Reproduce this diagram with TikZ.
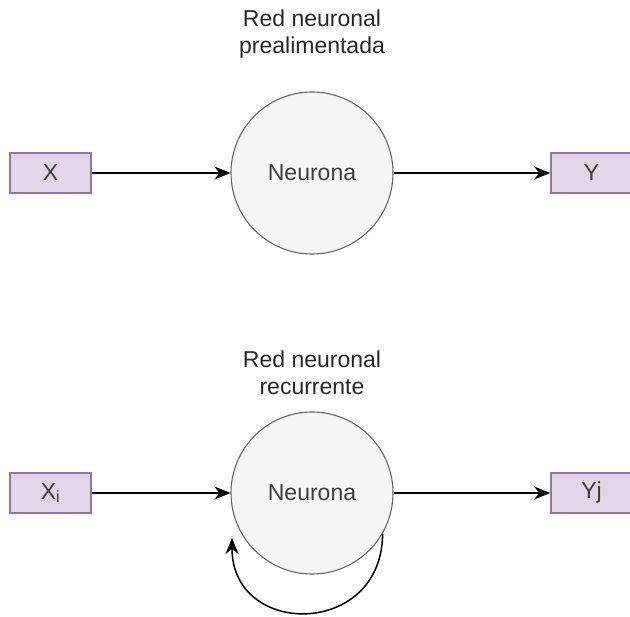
\documentclass[tikz,border=0pt]{standalone}
\usepackage{fontspec}
\setmainfont{Liberation Sans}
\usetikzlibrary{arrows.meta}
\definecolor{boxfill}{HTML}{E1D5E7}
\definecolor{boxline}{HTML}{9673A6}
\definecolor{cellfill}{HTML}{F5F5F5}
\definecolor{cellline}{HTML}{666666}
\definecolor{labeltext}{HTML}{3C3C3C}
\tikzset{
  txt/.style={font=\fontsize{23}{27}\selectfont},
  iobox/.style={txt, draw=boxline, fill=boxfill, line width=1.6pt,
    minimum width=81pt, minimum height=40pt, inner sep=0pt, text=labeltext},
  neuron/.style={txt, circle, draw=cellline, fill=cellfill, line width=1.1pt,
    minimum size=162pt, inner sep=0pt, text=labeltext},
  title/.style={txt, align=center, text=black!85},
  arr/.style={line width=1.5pt, -{Stealth[length=16pt, width=13pt, inset=5pt]}}
}
\begin{document}
\begin{tikzpicture}[x=1pt, y=-1pt]
  \useasboundingbox (0,0) rectangle (630,617);

  % feed-forward network
  \node[title] (t1) at (312,34) {Red neuronal\\prealimentada};
  \node[iobox] (x1) at (50.5,173) {X};
  \node[neuron] (n1) at (312,173) {Neurona};
  \node[iobox] (y1) at (591.5,173) {Y};
  \draw[arr] (x1) -- (n1);
  \draw[arr] (n1) -- (y1);

  % recurrent network
  \node[title] (t2) at (312,373) {Red neuronal\\recurrente};
  \node[iobox] (x2) at (50.5,493) {X\textsubscript{i}};
  \node[neuron] (n2) at (312,493) {Neurona};
  \node[iobox] (y2) at (591.5,493) {Yj};
  \draw[arr] (x2) -- (n2);
  \draw[arr] (n2) -- (y2);

  % feedback loop under the neuron
  \coordinate (loopend) at (232,538);
  \draw[arr] (n2.-30) .. controls (382,638) and (232,638) .. (loopend);
\end{tikzpicture}
\end{document}
